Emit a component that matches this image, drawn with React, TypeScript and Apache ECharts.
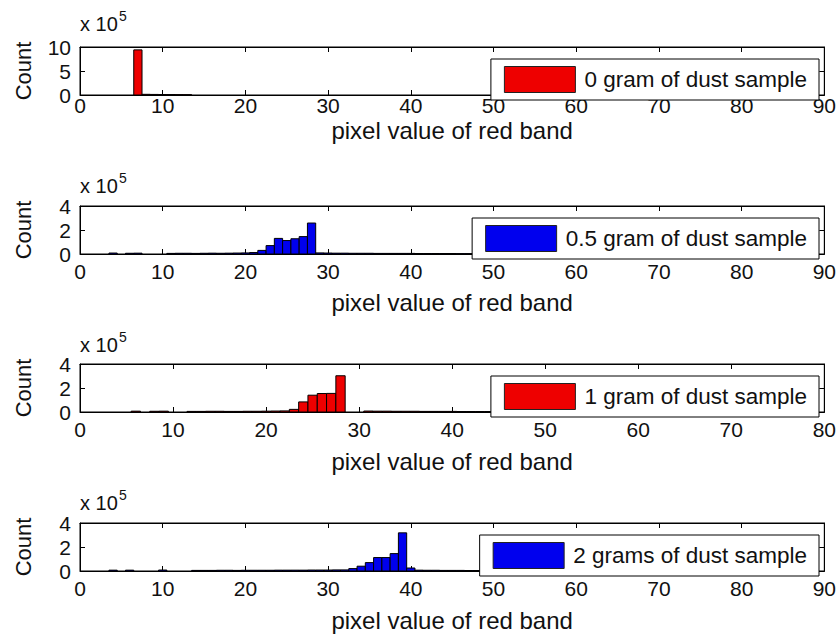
import React, { useEffect, useRef } from 'react';
import * as echarts from 'echarts';

// Histogram of red-band pixel values for each dust sample (counts per integer bin)
const binsDust0 = [7, 8, 9, 10, 11, 12, 13];
const countsDust0 = [940000, 14000, 12000, 10000, 9000, 7000, 6000];

const binsDust05 = [4, 6, 7, 11, 12, 13, 14, 15, 16, 17, 18, 19, 20, 21, 22, 23, 24, 25, 26, 27, 28,
  29, 30, 31, 32, 33, 34, 35, 36, 37, 38, 39, 40, 41, 42, 43, 44, 45, 46, 47, 48];
const countsDust05 = [8000, 6000, 7000, 5000, 6000, 6000, 5000, 6000, 7000, 6000, 7000, 8000, 9000, 12000,
  30000, 70000, 130000, 112000, 127000, 145000, 258000,
  9000, 8000, 7000, 7000, 6000, 6000, 6000, 5000, 5000, 5000, 5000, 5000, 4000, 4000, 4000, 4000, 4000, 3000, 3000, 3000];

const binsDust1 = [6, 8, 9, 12, 13, 14, 15, 16, 17, 18, 19, 20, 21, 22, 23, 24, 25, 26, 27, 28,
  31, 32, 33, 34, 35, 36, 37, 38, 39, 40, 41, 42, 43, 44];
const countsDust1 = [7000, 6000, 7000, 5000, 5000, 6000, 6000, 5000, 5000, 6000, 6000, 7000, 8000, 9000,
  22000, 84000, 140000, 154000, 155000, 302000,
  8000, 7000, 7000, 6000, 6000, 6000, 5000, 5000, 5000, 5000, 4000, 4000, 4000, 4000];

const binsDust2 = [4, 6, 10, 14, 15, 16, 17, 18, 19, 20, 21, 22, 23, 24, 25, 26, 27, 28, 29, 30, 31, 32,
  33, 34, 35, 36, 37, 38, 39, 40, 41, 42, 43, 44, 45, 46, 47, 48];
const countsDust2 = [7000, 7000, 8000, 5000, 5000, 5000, 6000, 6000, 5000, 6000, 6000, 6000, 6000, 7000, 7000,
  7000, 7000, 8000, 8000, 8000, 9000, 9000,
  20000, 40000, 70000, 112000, 112000, 145000, 318000, 25000, 7000, 6000, 6000, 5000, 5000, 5000, 4000, 4000];

const sampleNames = ['0 gram of dust sample', '0.5 gram of dust sample', '1 gram of dust sample', '2 grams of dust sample'];
const sampleColors = ['#ee0000', '#0000ee', '#ee0000', '#0000ee'];
const binLists = [binsDust0, binsDust05, binsDust1, binsDust2];
const countLists = [countsDust0, countsDust05, countsDust1, countsDust2];
const xMaxes = [90, 90, 80, 90];
const yMaxes = [1000000, 400000, 400000, 400000];
const yIntervals = [500000, 200000, 200000, 200000];

const FONT = '"Liberation Sans", Arial, sans-serif';
const TEXT = '#111';
// per-panel layout
const PLOT_TOPS = [47, 206, 364, 523];
const LABEL_MARGINS = [0, 7, 7, 7];
const NAME_GAPS = [23, 36, 37, 37];
const EXP_OFFSETS = [33, 30, 29, 30];
const PLOT_HEIGHT = 48;
const PLOT_LEFT = 80;
const PLOT_RIGHT = 11;

function buildOption() {
  const grid: any[] = [];
  const xAxis: any[] = [];
  const yAxis: any[] = [];
  const series: any[] = [];
  const legend: any[] = [];
  const graphic: any[] = [];

  sampleNames.forEach((name, i) => {
    const top = PLOT_TOPS[i];
    grid.push({
      left: PLOT_LEFT, right: PLOT_RIGHT, top, height: PLOT_HEIGHT,
      show: true, borderColor: '#000', borderWidth: 1, backgroundColor: '#fff',
    });
    const tickCommon = { show: true, inside: true, length: 5, lineStyle: { color: '#000', width: 1 } };
    xAxis.push({
      type: 'value', gridIndex: i, position: 'bottom', min: 0, max: xMaxes[i], interval: 10,
      axisLine: { show: true, onZero: false, lineStyle: { color: '#000', width: 1 } },
      axisTick: tickCommon,
      axisLabel: { show: true, color: TEXT, fontSize: 21, fontFamily: FONT, margin: LABEL_MARGINS[i], showMaxLabel: true, showMinLabel: true },
      splitLine: { show: false },
      name: 'pixel value of red band', nameLocation: 'middle', nameGap: NAME_GAPS[i], nameMoveOverlap: false,
      nameTextStyle: { color: TEXT, fontSize: 24, fontFamily: FONT },
    });
    xAxis.push({
      type: 'value', gridIndex: i, position: 'top', min: 0, max: xMaxes[i], interval: 10,
      axisLine: { show: true, onZero: false, lineStyle: { color: '#000', width: 1 } },
      axisTick: tickCommon, axisLabel: { show: false }, splitLine: { show: false },
    });
    yAxis.push({
      type: 'value', gridIndex: i, position: 'left', min: 0, max: yMaxes[i], interval: yIntervals[i],
      axisLine: { show: true, onZero: false, lineStyle: { color: '#000', width: 1 } },
      axisTick: tickCommon,
      axisLabel: { show: true, color: TEXT, fontSize: 21, fontFamily: FONT, margin: 9, formatter: (v: number) => String(v / 100000) },
      splitLine: { show: false },
      name: 'Count', nameLocation: 'middle', nameGap: 46, nameRotate: 90, nameMoveOverlap: false,
      nameTextStyle: { color: TEXT, fontSize: 22, fontFamily: FONT },
    });
    yAxis.push({
      type: 'value', gridIndex: i, position: 'right', min: 0, max: yMaxes[i], interval: yIntervals[i],
      axisLine: { show: true, onZero: false, lineStyle: { color: '#000', width: 1 } },
      axisTick: tickCommon, axisLabel: { show: false }, splitLine: { show: false },
    });
    const bins = binLists[i];
    const counts = countLists[i];
    series.push({
      type: 'custom', name, xAxisIndex: 2 * i, yAxisIndex: 2 * i,
      itemStyle: { color: sampleColors[i], borderColor: '#000', borderWidth: 1 },
      data: bins.map((b, k) => [b, counts[k]]),
      encode: { x: 0, y: 1 },
      clip: true,
      renderItem: (params: any, api: any) => {
        const x = api.value(0);
        const y = api.value(1);
        const p0 = api.coord([x - 0.5, y]);
        const p1 = api.coord([x + 0.5, 0]);
        return {
          type: 'rect',
          shape: { x: p0[0], y: p0[1], width: p1[0] - p0[0], height: p1[1] - p0[1] },
          style: api.style({ stroke: '#000', lineWidth: 1 }),
        };
      },
    });
    legend.push({
      data: [name], right: 20, top: top + 12, orient: 'horizontal',
      backgroundColor: '#fff', borderColor: '#000', borderWidth: 1, borderRadius: 0,
      padding: [7, 12, 7, 13], itemWidth: 71, itemHeight: 26, icon: 'rect',
      itemStyle: { borderColor: '#222', borderWidth: 1 },
      textStyle: { color: TEXT, fontSize: 22.5, fontFamily: FONT, padding: [0, 0, 0, 4] },
      selectedMode: false,
    });
    graphic.push({
      type: 'text', left: PLOT_LEFT, top: top - EXP_OFFSETS[i],
      style: { text: 'x 10', fill: TEXT, fontSize: 20, fontFamily: FONT },
    });
    graphic.push({
      type: 'text', left: PLOT_LEFT + 39, top: top - EXP_OFFSETS[i] - 5,
      style: { text: '5', fill: TEXT, fontSize: 14, fontFamily: FONT },
    });
  });

  return { animation: false, backgroundColor: '#fff', grid, xAxis, yAxis, series, legend, graphic };
}

export default function App() {
  const ref = useRef<HTMLDivElement>(null);
  useEffect(() => {
    if (!ref.current) return;
    const chart = echarts.init(ref.current, undefined, { renderer: 'svg' });
    chart.setOption(buildOption() as any);
    return () => chart.dispose();
  }, []);
  return (
    <div
      ref={ref}
      style={{ position: 'fixed', left: 0, top: 0, width: 839, height: 639, background: '#fff' }}
    />
  );
}
